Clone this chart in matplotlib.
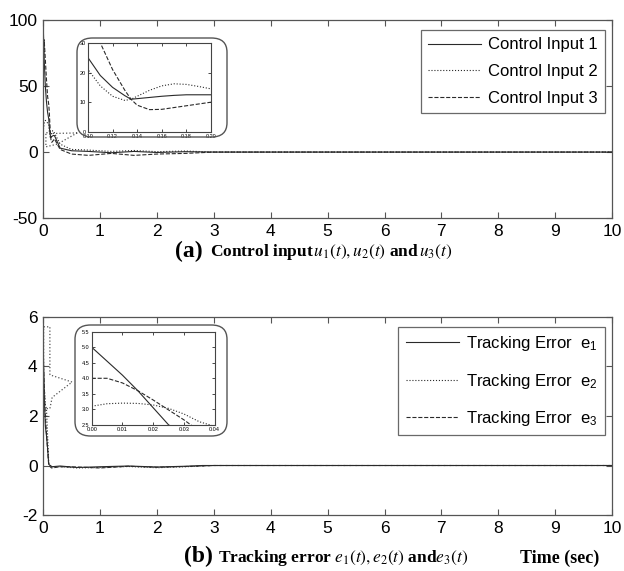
import numpy as np
import matplotlib.pyplot as plt
from matplotlib.patches import FancyBboxPatch

plt.rcParams['font.family'] = ['Liberation Sans', 'DejaVu Sans']
plt.rcParams['mathtext.fontset'] = 'stix'
plt.rcParams['axes.unicode_minus'] = False

# control inputs u1, u2, u3
t_u = [0, 0.02, 0.04, 0.06, 0.08, 0.1, 0.11, 0.12, 0.13, 0.135, 0.14, 0.15, 0.16,
       0.17, 0.18, 0.19, 0.2, 0.3, 0.5, 0.8, 1.2, 1.6, 2.0, 2.5, 3.0, 4.0, 10.0]
u1 = [100, 70, 50, 38, 30, 25, 19, 15, 12.2, 11, 11.2, 11.6, 12, 12.3, 12.5, 12.5,
      12.5, 3, 1, 0.5, -0.5, 0.5, -0.3, 0.3, 0, 0, 0]
u2 = [15, 22, 24, 23, 22, 21, 15.5, 12, 10.6, 11, 12, 14, 15.5, 16.2, 16, 15.3,
      14.5, 6, 2, 1.5, 0.5, 1.2, 0.3, 0.8, 0, 0, 0]
u3 = [60, 85, 70, 55, 42, 36, 30, 21, 14, 11, 9, 7.5, 7.6, 8.2, 8.8, 9.4, 10,
      2, -1.5, -2.5, -1, -2.5, -1.5, -1, 0, 0, 0]

# tracking errors e1, e2, e3
t_e = [0, 0.005, 0.01, 0.015, 0.02, 0.025, 0.03, 0.035, 0.04, 0.06, 0.08, 0.1,
       0.15, 0.3, 0.6, 1.0, 1.5, 2.0, 2.5, 2.8, 3.0, 10.0]
e1 = [5, 4.55, 4.1, 3.6, 3.05, 2.5, 2.2, 1.9, 1.6, 1.2, 0.7, 0.05, -0.05, -0.02,
      -0.08, -0.05, -0.02, -0.06, -0.03, 0, 0, 0]
e2 = [3.1, 3.18, 3.2, 3.19, 3.14, 3.03, 2.85, 2.6, 2.45, 2.3, 1.2, 0.1, -0.05,
      -0.05, -0.1, -0.08, -0.04, -0.09, -0.05, -0.02, 0, 0]
e3 = [4, 4.0, 3.85, 3.6, 3.3, 2.98, 2.66, 2.3, 2.0, 1.3, 0.6, 0.0, -0.1, -0.05,
      -0.06, -0.1, -0.03, -0.07, -0.04, -0.02, 0, 0]

# zoom callouts (dotted)
call_a = [(0.6, 14.5), (0.1, 14), (0.05, 15), (0.05, 4), (0.25, 6), (0.6, 14.5)]
call_b = [(0.12, 3.66), (0.12, 5.6), (0.01, 5.6), (0.01, 2.3), (0.12, 2.3),
          (0.16, 2.75), (0.51, 3.37), (0.12, 3.66)]

col = '#2a2a2a'
styles = ['-', ':', '--']

fig = plt.figure(figsize=(6.24, 5.71), dpi=100)


def style_main(ax, ylim, yticks):
    ax.set_xlim(0, 10)
    ax.set_ylim(*ylim)
    ax.set_xticks(range(11))
    ax.set_yticks(yticks)
    ax.tick_params(direction='in', top=True, right=True, labelsize=12.5,
                   length=4, width=0.8, color='#555555', pad=4)
    for s in ax.spines.values():
        s.set_color('#555555')
        s.set_linewidth(0.9)


def style_inset(ax, xlim, ylim, xticks, yticks):
    ax.set_xlim(*xlim)
    ax.set_ylim(*ylim)
    ax.set_xticks(xticks)
    ax.set_yticks(yticks)
    ax.tick_params(direction='in', top=True, right=True, labelsize=4,
                   length=2, width=0.5, pad=1.5)
    for s in ax.spines.values():
        s.set_linewidth(0.8)
        s.set_color('#444444')


def rbox(x0, y0, x1, y1):
    # rounded frame around an inset, pixel coords from top-left
    W, H = 624, 571
    p = FancyBboxPatch((x0 / W, 1 - y1 / H), (x1 - x0) / W, (y1 - y0) / H,
                       boxstyle='round,pad=0,rounding_size=0.025',
                       transform=fig.transFigure, fill=False,
                       ec='#555555', lw=1.0)
    fig.patches.append(p)


# (a) control inputs
ax1 = fig.add_axes([0.069, 0.618, 0.912, 0.347])
names_a = ['Control Input 1', 'Control Input 2', 'Control Input 3']
for y, ls, nm in zip([u1, u2, u3], styles, names_a):
    ax1.plot(t_u, y, ls, color=col, lw=0.8, label=nm)
ax1.plot(*zip(*call_a), ':', color='#555555', lw=0.9)
style_main(ax1, (-50, 100), [-50, 0, 50, 100])
leg = ax1.legend(loc='upper right', bbox_to_anchor=(0.988, 0.95), fontsize=12,
                 fancybox=False, edgecolor='#444444', handlelength=3.2,
                 borderpad=0.45, labelspacing=0.7, handletextpad=0.4,
                 borderaxespad=0)
leg.get_frame().set_linewidth(0.9)

rbox(77, 38, 227, 137)
in1 = fig.add_axes([0.141, 0.769, 0.197, 0.156])
for y, ls in zip([u1, u2, u3], styles):
    in1.plot(t_u, y, ls, color=col, lw=0.8)
style_inset(in1, (0.1, 0.2), (0, 30), [0.1, 0.12, 0.14, 0.16, 0.18, 0.2],
            [0, 10, 20, 30])

fig.text(0.28, 0.560, '(a)', fontsize=17, fontweight='bold',
         family='Liberation Serif', ha='left', va='center')
fig.text(0.337, 0.558, r'Control input$\,u_1(t),u_2(t)$ and$\,u_3(t)$',
         fontsize=12.5, fontweight='bold', family='Liberation Serif',
         ha='left', va='center')

# (b) tracking errors
ax2 = fig.add_axes([0.069, 0.098, 0.912, 0.347])
names_b = [r'Tracking Error  $\mathregular{e_%d}$' % i for i in (1, 2, 3)]
for y, ls, nm in zip([e1, e2, e3], styles, names_b):
    ax2.plot(t_e, y, ls, color=col, lw=0.8, label=nm)
ax2.plot(*zip(*call_b), ':', color='#555555', lw=0.9)
style_main(ax2, (-2, 6), [-2, 0, 2, 4, 6])
leg = ax2.legend(loc='upper right', bbox_to_anchor=(0.988, 0.95), fontsize=12,
                 fancybox=False, edgecolor='#444444', handlelength=3.2,
                 borderpad=0.45, labelspacing=1.1, handletextpad=0.4,
                 borderaxespad=0)
leg.get_frame().set_linewidth(0.9)

rbox(75, 325, 227, 436)
in2 = fig.add_axes([0.147, 0.256, 0.197, 0.163])
for y, ls in zip([e1, e2, e3], styles):
    in2.plot(t_e, y, ls, color=col, lw=0.8)
style_inset(in2, (0, 0.04), (2.5, 5.5), [0, 0.01, 0.02, 0.03, 0.04],
            [2.5, 3, 3.5, 4, 4.5, 5, 5.5])

fig.text(0.295, 0.025, '(b)', fontsize=17, fontweight='bold',
         family='Liberation Serif', ha='left', va='center')
fig.text(0.35, 0.023, r'Tracking error $e_1(t),e_2(t)$ and$e_3(t)$',
         fontsize=12.5, fontweight='bold', family='Liberation Serif',
         ha='left', va='center')
fig.text(0.834, 0.023, 'Time (sec)', fontsize=13, fontweight='bold',
         family='Liberation Serif', ha='left', va='center')

fig.savefig('out.png', dpi=100, facecolor='white')
